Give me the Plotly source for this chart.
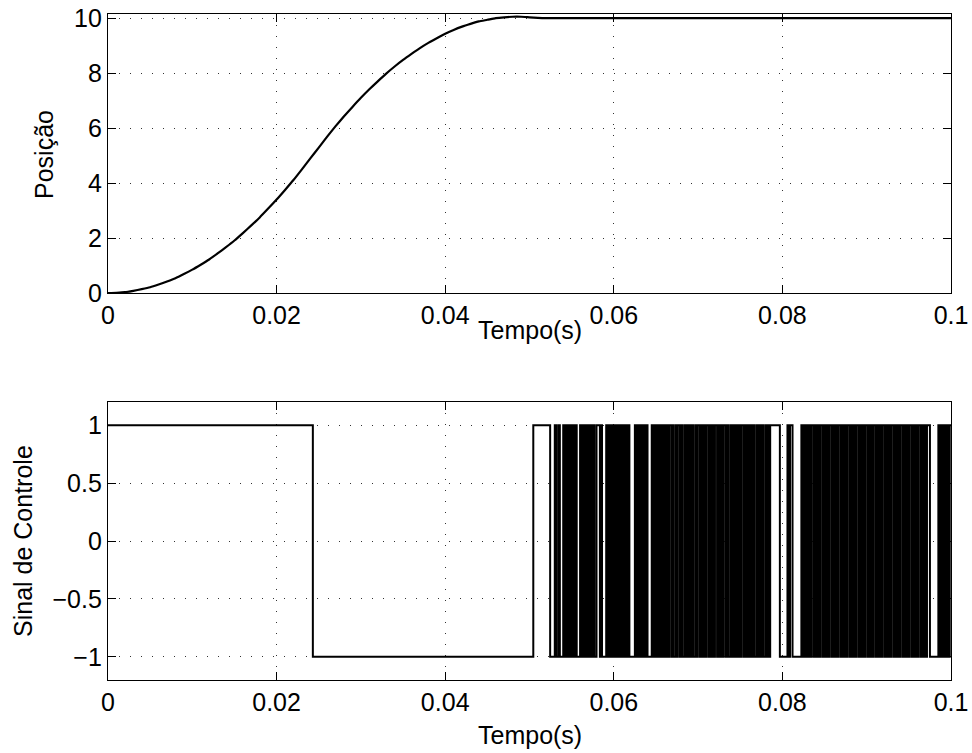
import plotly.graph_objects as go
from plotly.subplots import make_subplots

# ---- Data ----
# Position response: time (ms) and position
pos_time_ms = [0, 1, 2, 3, 4, 5, 6, 7, 8, 9, 10, 11, 12, 13, 14, 15, 16, 17, 18, 19,
               20, 21, 22, 23, 24, 25, 26, 27, 28, 29, 30, 31, 32, 33, 34, 35, 36, 37,
               38, 39, 40, 41, 42, 43, 44, 45, 46, 47, 48, 49, 50, 51, 52, 60, 70, 80,
               90, 100]
pos_value = [0, 0.01, 0.03, 0.08, 0.14, 0.21, 0.31, 0.42, 0.54, 0.69, 0.85, 1.03, 1.22,
             1.44, 1.67, 1.91, 2.18, 2.46, 2.75, 3.07, 3.40, 3.75, 4.11, 4.50, 4.90,
             5.29, 5.69, 6.07, 6.43, 6.77, 7.10, 7.41, 7.70, 7.98, 8.24, 8.48, 8.70,
             8.91, 9.10, 9.27, 9.43, 9.57, 9.69, 9.79, 9.88, 9.94, 10.00, 10.03, 10.05,
             10.05, 10.03, 10.01, 10.0, 10.0, 10.0, 10.0, 10.0, 10.0]

# Control signal: starts at +1, toggles sign at each switching instant (ms)
ctrl_start_value = 1
ctrl_switch_ms = [
    24.30, 50.45, 52.45, 53.00, 53.20, 53.45, 53.60, 54.00, 54.15, 54.35, 54.55, 54.70,
    54.90, 55.05, 55.25, 55.40, 55.60, 56.00, 56.15, 56.30, 56.50, 56.60, 56.75, 56.95,
    57.10, 57.25, 57.35, 57.50, 57.70, 57.95, 58.35, 58.45, 58.60, 59.10, 59.30, 59.50,
    59.60, 59.80, 59.90, 60.05, 60.20, 60.40, 60.45, 60.60, 60.75, 60.85, 60.95, 61.15,
    61.25, 61.40, 61.60, 61.70, 61.85, 62.50, 62.70, 62.85, 63.05, 63.20, 63.35, 63.55,
    63.65, 63.85, 64.00, 64.50, 64.70, 64.85, 65.05, 65.20, 65.40, 65.60, 65.75, 65.90,
    66.10, 66.25, 66.45, 66.60, 66.85, 66.95, 67.10, 67.35, 67.45, 67.60, 67.85, 67.95,
    68.10, 68.35, 68.45, 68.65, 68.85, 68.95, 69.15, 69.35, 69.45, 69.70, 69.80, 69.95,
    70.20, 70.30, 70.45, 70.65, 70.80, 70.95, 71.20, 71.35, 71.50, 71.70, 71.85, 72.00,
    72.25, 72.35, 72.55, 72.75, 72.90, 73.05, 73.30, 73.40, 73.55, 73.80, 73.90, 74.10,
    74.30, 74.45, 74.60, 74.80, 74.95, 75.10, 75.35, 75.45, 75.65, 75.85, 75.95, 76.15,
    76.35, 76.50, 76.65, 76.90, 77.00, 77.20, 77.40, 77.55, 77.70, 77.95, 78.10, 78.30,
    78.45, 78.55, 79.70, 80.60, 80.75, 80.90, 81.20, 82.25, 82.40, 82.55, 82.75, 82.85,
    83.00, 83.20, 83.35, 83.50, 83.75, 83.85, 84.05, 84.25, 84.40, 84.55, 84.80, 84.90,
    85.10, 85.30, 85.45, 85.60, 85.85, 85.95, 86.15, 86.35, 86.50, 86.65, 86.90, 87.00,
    87.20, 87.40, 87.55, 87.70, 87.95, 88.05, 88.25, 88.45, 88.60, 88.75, 89.00, 89.10,
    89.30, 89.50, 89.65, 89.80, 90.05, 90.15, 90.35, 90.55, 90.70, 90.85, 91.10, 91.20,
    91.40, 91.60, 91.75, 91.90, 92.15, 92.25, 92.45, 92.65, 92.80, 92.95, 93.20, 93.30,
    93.50, 93.70, 93.85, 94.00, 94.25, 94.35, 94.55, 94.75, 94.90, 95.05, 95.30, 95.40,
    95.60, 95.80, 95.95, 96.10, 96.35, 96.45, 96.65, 96.85, 97.00, 97.15, 97.50, 98.50,
    98.65, 98.80, 99.00, 99.15, 99.35, 99.50, 99.65, 99.85,
]
t_end_ms = 100

# ticks and labels
x_tickvals = [0, 0.02, 0.04, 0.06, 0.08, 0.1]
x_ticktext = ["0", "0.02", "0.04", "0.06", "0.08", "0.1"]
y1_tickvals = [0, 2, 4, 6, 8, 10]
y2_tickvals = [-1, -0.5, 0, 0.5, 1]
y2_ticktext = ["\u22121", "\u22120.5", "0", "0.5", "1"]
x_title = "Tempo(s)"
y1_title = "Posição"
y2_title = "Sinal de Controle"

# ---- Build control trace (step) ----
ctrl_x = [0.0]
ctrl_y = [ctrl_start_value]
v = ctrl_start_value
for s in ctrl_switch_ms:
    v = -v
    ctrl_x.append(s / 1000.0)
    ctrl_y.append(v)
ctrl_x.append(t_end_ms / 1000.0)
ctrl_y.append(v)

pos_x = [t / 1000.0 for t in pos_time_ms]

fig = make_subplots(rows=2, cols=1)

fig.add_trace(go.Scatter(x=pos_x, y=pos_value, mode="lines",
                         line=dict(color="black", width=2.2, shape="spline", smoothing=0.5),
                         showlegend=False), row=1, col=1)
fig.add_trace(go.Scatter(x=ctrl_x, y=ctrl_y, mode="lines",
                         line=dict(color="black", width=2, shape="hv"),
                         showlegend=False), row=2, col=1)

FONT = "Liberation Sans, Arial, Helvetica, sans-serif"
FS = 25
axis_common = dict(
    showline=True, linecolor="black", linewidth=1.3, mirror="ticks",
    ticks="inside", ticklen=8, tickwidth=1, tickcolor="black",
    showgrid=True, gridcolor="#333333", gridwidth=1, griddash="1px,10px",
    zeroline=False, automargin=False,
    tickfont=dict(family=FONT, size=FS, color="black"),
)

# plot area: x 108..951, y 14..680 px
L, R, T, B = 108, 951, 14, 680
W, H = R - L, B - T


def px_x(px):
    return (px - L) / W


def px_y(py):
    return (B - py) / H


fig.update_layout(
    width=972, height=753,
    margin=dict(l=L, r=972 - R, t=T, b=753 - B, autoexpand=False),
    paper_bgcolor="white", plot_bgcolor="white",
    font=dict(family=FONT, size=FS, color="black"),
    xaxis=dict(domain=[0, 1], range=[0, 0.1], tickvals=x_tickvals, ticktext=x_ticktext,
               **axis_common),
    yaxis=dict(domain=[px_y(293), 1], range=[0, 10.15], tickvals=y1_tickvals,
               **axis_common),
    xaxis2=dict(domain=[0, 1], range=[0, 0.1], tickvals=x_tickvals, ticktext=x_ticktext,
                **axis_common),
    yaxis2=dict(domain=[0, px_y(402)], range=[-1.2, 1.2], tickvals=y2_tickvals,
                ticktext=y2_ticktext, **axis_common),
)

ann_font = dict(family=FONT, size=FS, color="black")
fig.add_annotation(text=x_title, xref="paper", yref="paper", x=0.5, y=px_y(330),
                   xanchor="center", yanchor="middle", showarrow=False, font=ann_font)
fig.add_annotation(text=x_title, xref="paper", yref="paper", x=0.5, y=px_y(735),
                   xanchor="center", yanchor="middle", showarrow=False, font=ann_font)
fig.add_annotation(text=y1_title, xref="paper", yref="paper", x=px_x(44), y=px_y(155),
                   xanchor="center", yanchor="middle", textangle=-90, showarrow=False,
                   font=ann_font)
fig.add_annotation(text=y2_title, xref="paper", yref="paper", x=px_x(23), y=px_y(541),
                   xanchor="center", yanchor="middle", textangle=-90, showarrow=False,
                   font=ann_font)

fig.write_html("out.html")
